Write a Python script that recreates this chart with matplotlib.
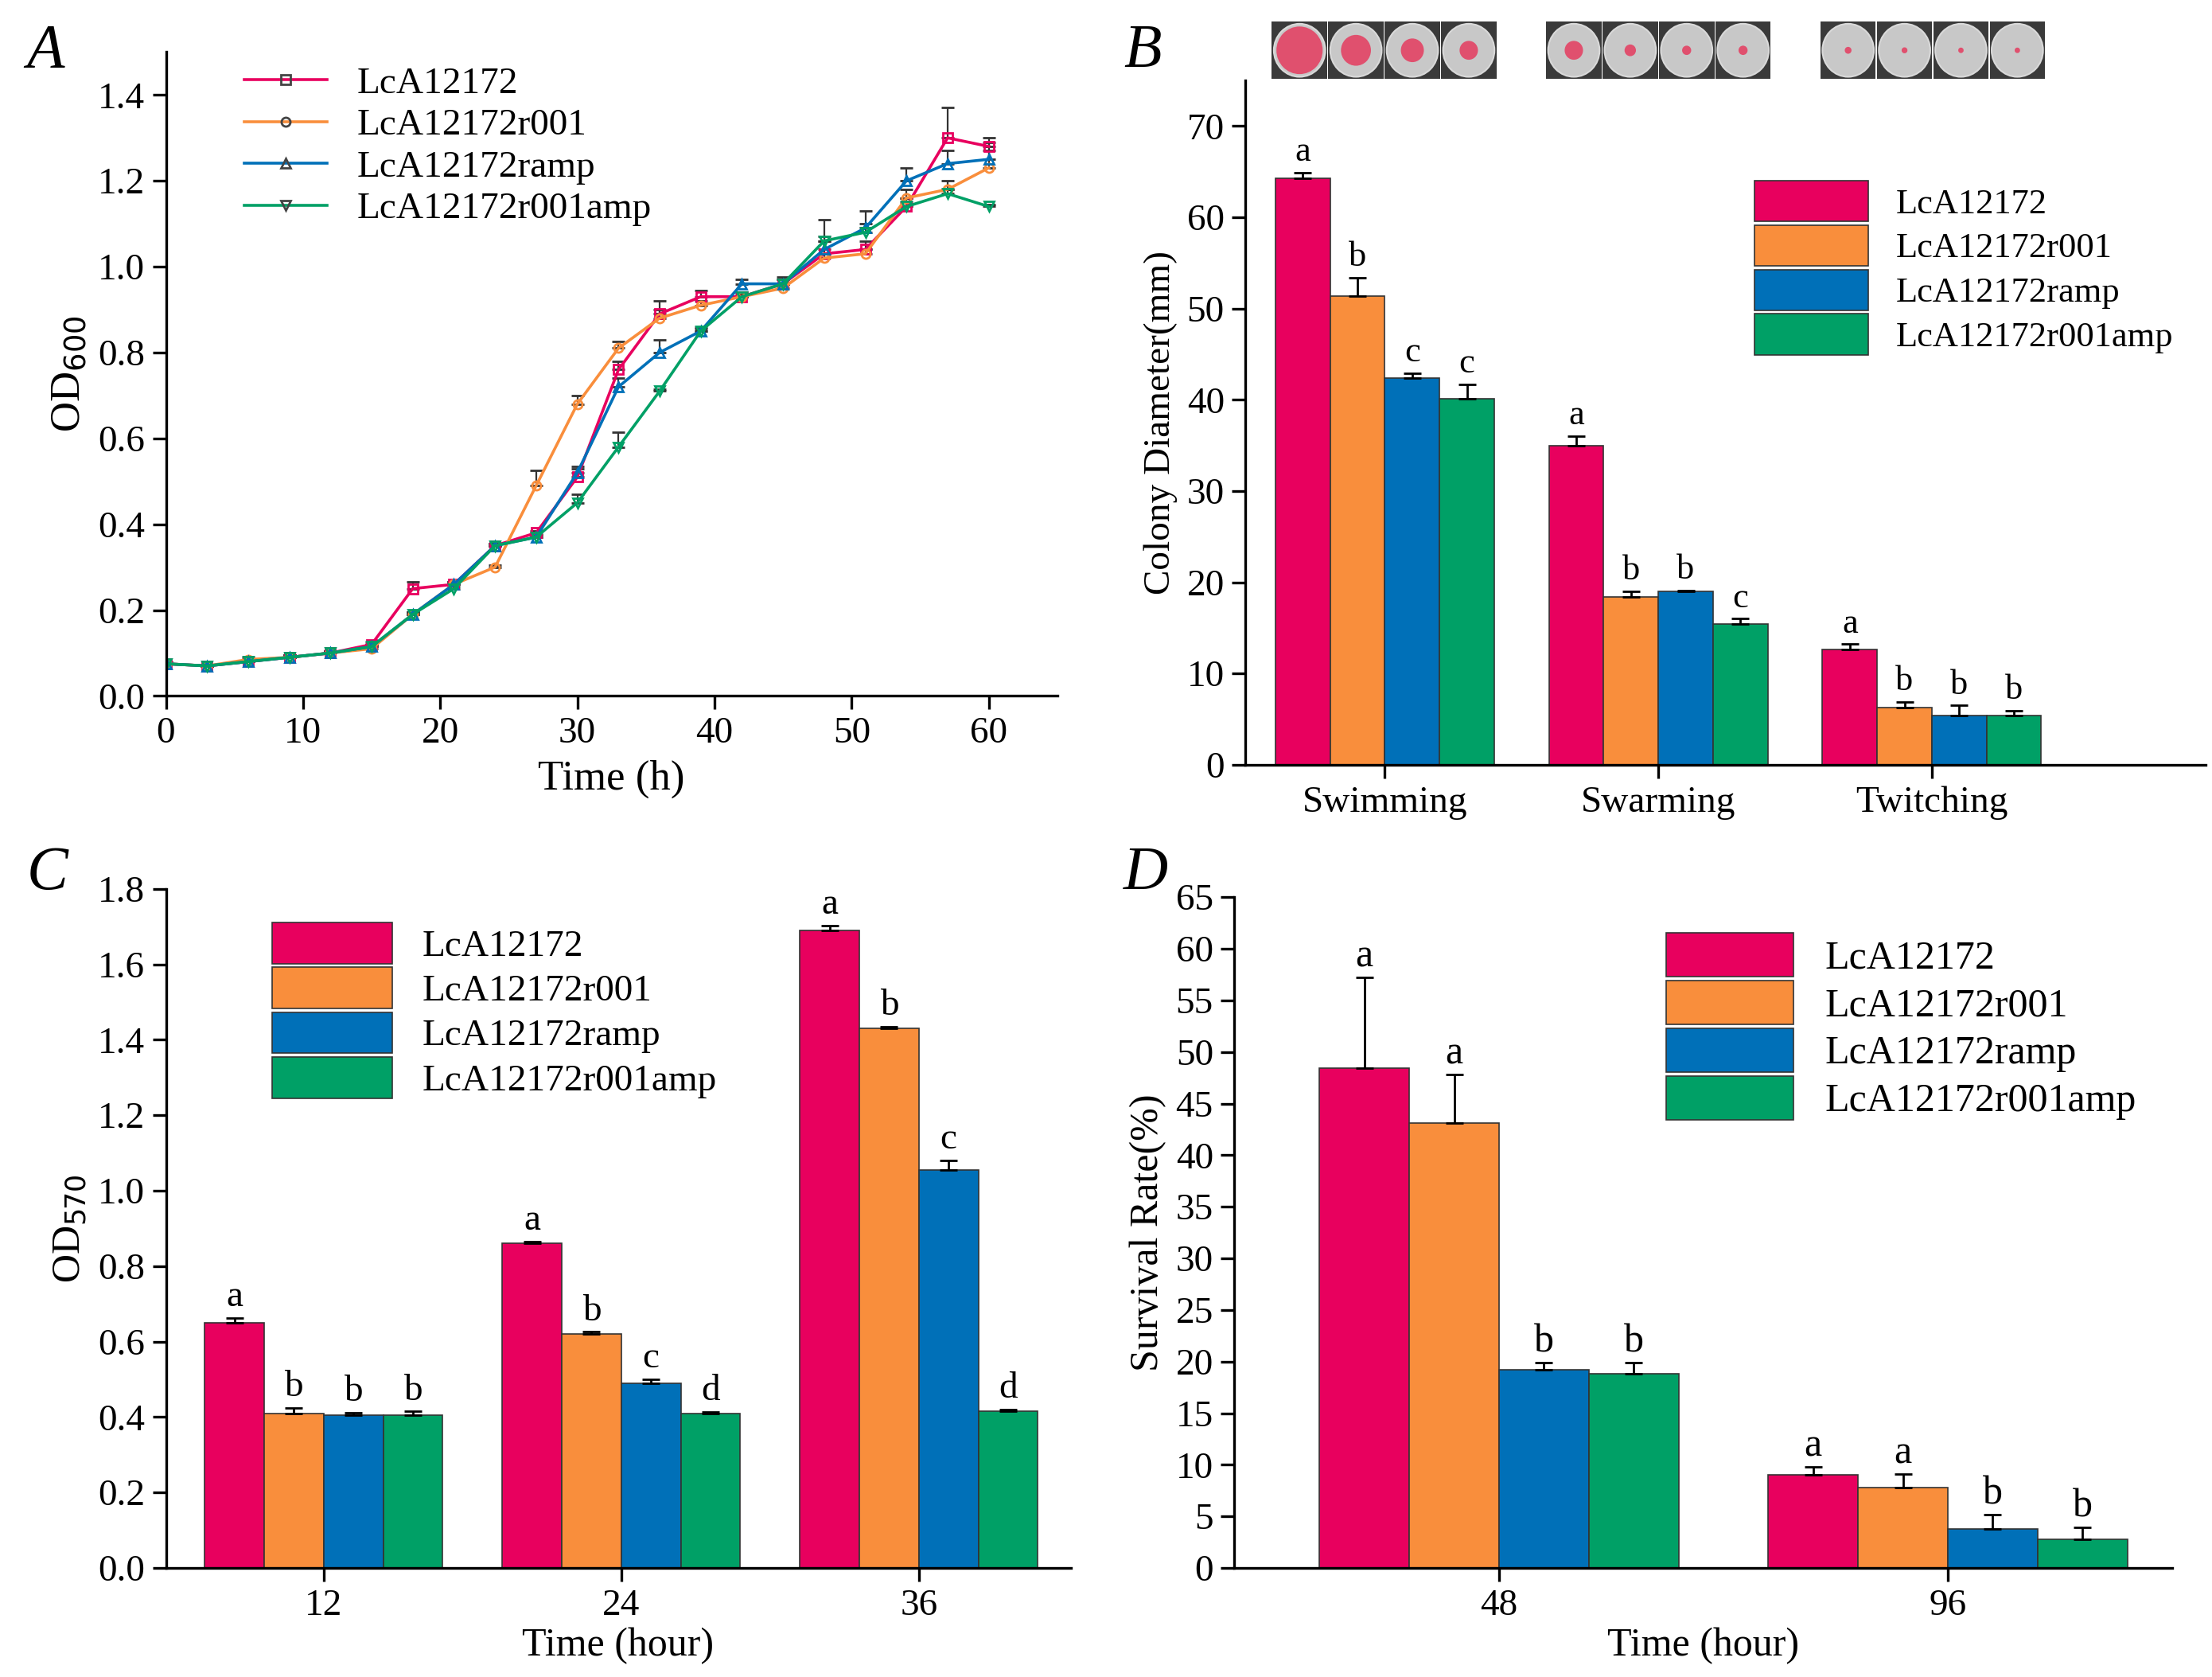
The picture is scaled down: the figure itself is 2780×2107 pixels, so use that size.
import matplotlib
matplotlib.use("Agg")
import matplotlib.pyplot as plt
import numpy as np
from matplotlib.patches import Rectangle, Circle
from matplotlib.lines import Line2D

plt.rcParams['font.family'] = ['Liberation Serif', 'DejaVu Serif']
plt.rcParams['font.size'] = 17

strains = ["LcA12172", "LcA12172r001", "LcA12172ramp", "LcA12172r001amp"]
colors = ["#E8005E", "#F98E3C", "#0070B8", "#00A066"]

time_h = list(range(0, 61, 3))
od600 = [
    [0.075,0.07,0.08,0.09,0.10,0.12,0.25,0.26,0.35,0.38,0.51,0.76,0.89,0.93,0.93,0.96,1.03,1.04,1.14,1.30,1.28],
    [0.075,0.07,0.085,0.09,0.10,0.11,0.19,0.26,0.30,0.49,0.68,0.81,0.88,0.91,0.93,0.95,1.02,1.03,1.16,1.18,1.23],
    [0.075,0.07,0.08,0.09,0.10,0.115,0.19,0.26,0.35,0.37,0.52,0.72,0.80,0.85,0.96,0.96,1.04,1.09,1.20,1.24,1.25],
    [0.075,0.07,0.08,0.09,0.10,0.115,0.19,0.25,0.35,0.37,0.45,0.58,0.71,0.85,0.93,0.96,1.06,1.08,1.14,1.17,1.14],
]
od600_err = [
    [0.003,0.003,0.005,0.005,0.005,0.005,0.015,0.005,0.005,0.005,0.02,0.02,0.03,0.015,0.01,0.015,0.03,0.02,0.02,0.07,0.02],
    [0.003,0.003,0.005,0.005,0.005,0.005,0.005,0.005,0.005,0.035,0.02,0.015,0.02,0.01,0.01,0.01,0.01,0.01,0.02,0.02,0.06],
    [0.003,0.003,0.005,0.005,0.005,0.005,0.005,0.005,0.005,0.005,0.015,0.02,0.03,0.01,0.01,0.01,0.03,0.04,0.03,0.03,0.02],
    [0.003,0.003,0.005,0.005,0.005,0.005,0.005,0.005,0.005,0.005,0.02,0.035,0.005,0.005,0.005,0.01,0.05,0.02,0.01,0.01,0.005],
]
markers = ['s', 'o', '^', 'v']

motility = ["Swimming", "Swarming", "Twitching"]
diam = [[64.3,35.0,12.6],[51.4,18.4,6.3],[42.4,19.0,5.4],[40.1,15.4,5.4]]
diam_err = [[0.6,1.0,0.6],[2.0,0.6,0.6],[0.5,0.1,1.1],[1.6,0.6,0.5]]
diam_let = [["a","a","a"],["b","b","b"],["c","b","b"],["c","c","b"]]

bio_t = ["12", "24", "36"]
od570 = [[0.65,0.86,1.69],[0.41,0.62,1.43],[0.405,0.49,1.055],[0.405,0.41,0.415]]
od570_err = [[0.012,0.005,0.013],[0.015,0.006,0.004],[0.006,0.01,0.025],[0.01,0.004,0.005]]
od570_let = [["a","a","a"],["b","b","b"],["b","c","c"],["b","d","d"]]

surv_t = ["48", "96"]
surv = [[48.4,9.0],[43.1,7.8],[19.2,3.8],[18.8,2.8]]
surv_err = [[8.8,0.8],[4.7,1.3],[0.7,1.4],[1.1,1.1]]
surv_let = [["a","a"],["a","a"],["b","b"],["b","b"]]

fig = plt.figure(figsize=(13.9, 10.535), dpi=200)

def style(ax):
    for s in ['top', 'right']:
        ax.spines[s].set_visible(False)
    ax.tick_params(direction='out', length=6, width=1.2)
    for s in ['left', 'bottom']:
        ax.spines[s].set_linewidth(1.2)

# A
axA = fig.add_axes([0.075, 0.585, 0.403, 0.384])
handles = []
for i in range(4):
    axA.errorbar(time_h, od600[i], yerr=[np.zeros(21), od600_err[i]], color=colors[i],
                 marker=markers[i], ms=4, mfc='none', lw=1.3, capsize=3, elinewidth=0.8,
                 ecolor='#333333')
    handles.append(Line2D([], [], color=colors[i], marker=markers[i], ms=4, mfc='none', lw=1.3,
                          markeredgecolor='#444444', label=strains[i]))
axA.set_xlim(0, 65); axA.set_ylim(0, 1.5)
axA.set_xticks(range(0, 61, 10)); axA.set_yticks(np.arange(0, 1.41, 0.2))
axA.set_yticklabels([f"{v:.1f}" for v in np.arange(0, 1.41, 0.2)])
axA.set_xlabel("Time (h)", fontsize=19); axA.set_ylabel("OD$_{600}$", fontsize=19)
axA.legend(handles=handles, loc='upper left', bbox_to_anchor=(0.05, 1.03), frameon=False, fontsize=17,
           handlelength=2.2, labelspacing=0.2)
style(axA)

def bars(ax, vals, errs, lets, dy, lab_fs=16):
    n = len(vals[0]); x = np.arange(n)
    for i in range(4):
        xi = x + (i - 1.5) * 0.2
        ax.bar(xi, vals[i], width=0.2, color=colors[i], edgecolor='#333333', lw=0.6, label=strains[i])
        ax.errorbar(xi, vals[i], yerr=[np.zeros(n), errs[i]], fmt='none', ecolor='black',
                    capsize=4, elinewidth=1)
        for j in range(n):
            ax.text(xi[j], vals[i][j] + errs[i][j] + dy, lets[i][j], ha='center', va='bottom', fontsize=lab_fs)
    return x

# B
axB = fig.add_axes([0.563, 0.544, 0.434, 0.408])
x = bars(axB, diam, diam_err, diam_let, 0.5)
axB.set_xlim(-0.51, 3.0); axB.set_ylim(0, 75)
axB.set_xticks(x); axB.set_xticklabels(motility)
axB.set_yticks(range(0, 71, 10))
axB.set_ylabel("Colony Diameter(mm)", fontsize=17)
axB.legend(loc='upper right', bbox_to_anchor=(1.0, 0.9), frameon=False, fontsize=16,
           handlelength=3.2, handleheight=1.4, labelspacing=0.1)
style(axB)

# Petri dish pictures (decorative)
dish_col = [[0.9,0.55,0.4,0.3],[0.3,0.15,0.1,0.1],[0.05,0.03,0.02,0.02]]
for g, gx in enumerate([0.575, 0.699, 0.823]):
    for k in range(4):
        ax0 = fig.add_axes([gx + k*0.0255, 0.953, 0.025, 0.034])
        ax0.set_xlim(0, 1); ax0.set_ylim(0, 1); ax0.axis('off')
        ax0.add_patch(Rectangle((0, 0), 1, 1, color='#3a3a3a'))
        ax0.add_patch(Circle((0.5, 0.5), 0.46, color='#d9d9d9'))
        ax0.add_patch(Circle((0.5, 0.5), 0.43, color='#c8c8c8'))
        r = dish_col[g][k] * 0.42 + 0.02
        ax0.add_patch(Circle((0.5, 0.5), r, color='#e0506e'))

# C
axC = fig.add_axes([0.075, 0.065, 0.409, 0.405])
x = bars(axC, od570, od570_err, od570_let, 0.01, 17)
axC.set_xlim(-0.53, 2.51); axC.set_ylim(0, 1.8)
axC.set_xticks(x); axC.set_xticklabels(bio_t)
axC.set_yticks(np.arange(0, 1.81, 0.2))
axC.set_yticklabels([f"{v:.1f}" for v in np.arange(0, 1.81, 0.2)])
axC.set_xlabel("Time (hour)", fontsize=18, labelpad=2); axC.set_ylabel("OD$_{570}$", fontsize=18)
axC.legend(loc='upper left', bbox_to_anchor=(0.08, 1.0), frameon=False, fontsize=17,
           handlelength=3.2, handleheight=1.3, labelspacing=0.1)
style(axC)

# D
axD = fig.add_axes([0.558, 0.065, 0.424, 0.4])
x = bars(axD, surv, surv_err, surv_let, 0.2, 18)
axD.set_xlim(-0.59, 1.5); axD.set_ylim(0, 65)
axD.set_xticks(x); axD.set_xticklabels(surv_t)
axD.set_yticks(range(0, 66, 5))
axD.set_xlabel("Time (hour)", fontsize=18, labelpad=2); axD.set_ylabel("Survival Rate(%)", fontsize=18)
axD.legend(loc='upper right', bbox_to_anchor=(1.0, 1.0), frameon=False, fontsize=18,
           handlelength=3.2, handleheight=1.3, labelspacing=0.1)
style(axD)

for lab, (fx, fy) in zip("ABCD", [(0.012, 0.96), (0.508, 0.96), (0.012, 0.47), (0.508, 0.47)]):
    fig.text(fx, fy, lab, fontsize=28, style='italic')

fig.savefig("out.png", dpi=200)
